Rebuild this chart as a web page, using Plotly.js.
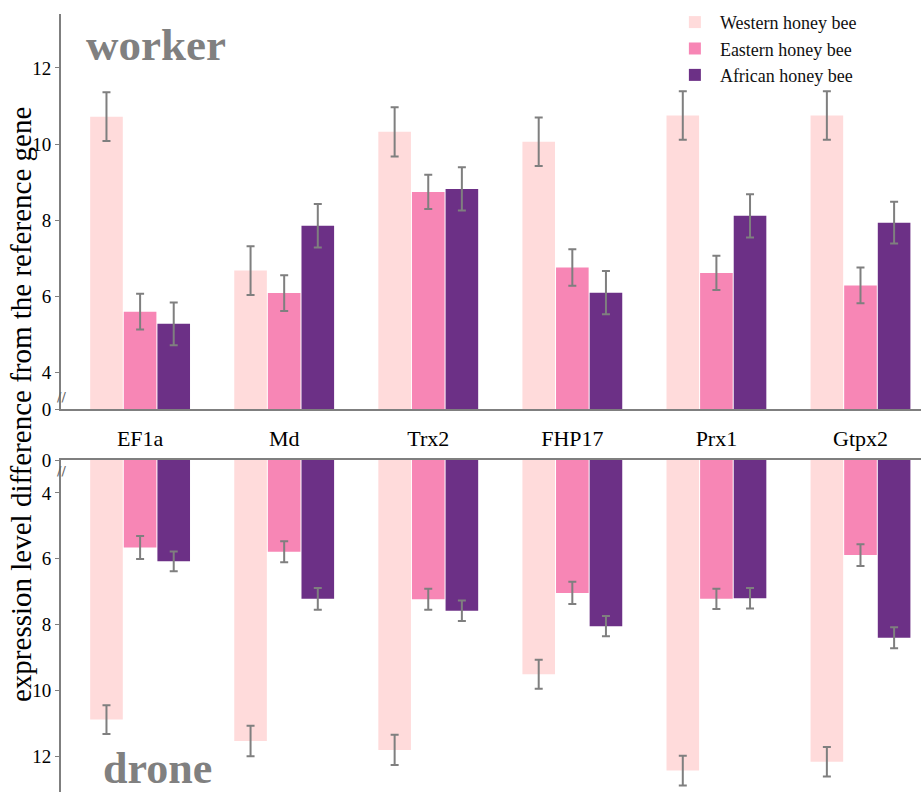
<!DOCTYPE html>
<html>
<head>
<meta charset="utf-8">
<script src="https://cdn.plot.ly/plotly-3.0.1.min.js"></script>
<style>html,body{margin:0;padding:0;background:#fff;}#chart{width:921px;height:792px;}</style>
</head>
<body>
<div id="chart"></div>
<script>
const genes = ["EF1a", "Md", "Trx2", "FHP17", "Prx1", "Gtpx2"];
const seriesNames = ["Western honey bee", "Eastern honey bee", "African honey bee"];
const seriesColors = ["#FFDBDB", "#F786B5", "#6C3086"];

// worker (upper panel)
const workerWestern = [10.72, 6.67, 10.32, 10.06, 10.75, 10.75];
const workerEastern = [5.59, 6.08, 8.74, 6.75, 6.61, 6.28];
const workerAfrican = [5.27, 7.85, 8.82, 6.09, 8.11, 7.93];
const workerWesternErr = [0.64, 0.64, 0.65, 0.64, 0.64, 0.64];
const workerEasternErr = [0.47, 0.47, 0.45, 0.48, 0.45, 0.47];
const workerAfricanErr = [0.56, 0.57, 0.57, 0.57, 0.57, 0.55];

// drone (lower panel)
const droneWestern = [10.89, 11.54, 11.81, 9.51, 12.44, 12.17];
const droneEastern = [5.66, 5.79, 7.23, 7.04, 7.22, 5.89];
const droneAfrican = [6.08, 7.22, 7.58, 8.05, 7.20, 8.40];
const droneWesternErr = [0.44, 0.46, 0.46, 0.44, 0.45, 0.45];
const droneEasternErr = [0.35, 0.32, 0.32, 0.34, 0.31, 0.33];
const droneAfricanErr = [0.30, 0.33, 0.31, 0.31, 0.31, 0.32];

const workerTickVals = [3.03, 4, 6, 8, 10, 12];
const droneTickVals = [3, 4, 6, 8, 10, 12];
const tickText = ["0", "4", "6", "8", "10", "12"];

const FONT = '"Liberation Serif", "Times New Roman", serif';
const GRAY = "#7f7f7f";

function barTrace(vals, errs, i, xa, ya, show) {
  return {
    type: "bar", x: genes, y: vals, name: seriesNames[i],
    xaxis: xa, yaxis: ya, showlegend: show, legendgroup: "g" + i,
    marker: {color: seriesColors[i], line: {width: 0}},
    error_y: {type: "data", array: errs, visible: true, color: GRAY, thickness: 2, width: 4},
    hoverinfo: "x+y"
  };
}

const data = [
  barTrace(workerWestern, workerWesternErr, 0, "x", "y", true),
  barTrace(workerEastern, workerEasternErr, 1, "x", "y", true),
  barTrace(workerAfrican, workerAfricanErr, 2, "x", "y", true),
  barTrace(droneWestern, droneWesternErr, 0, "x2", "y2", false),
  barTrace(droneEastern, droneEasternErr, 1, "x2", "y2", false),
  barTrace(droneAfrican, droneAfricanErr, 2, "x2", "y2", false)
];

const H = 792, T = 14, PH = H - T;
const topDomain = [(H - 409) / PH, 1];
const botDomain = [0, (H - 460) / PH];
const xRange = [-0.549, 5.42];

const layout = {
  width: 921, height: 792,
  margin: {l: 61, r: 0, t: T, b: 0},
  paper_bgcolor: "#fff", plot_bgcolor: "#fff",
  font: {family: FONT, color: "#000", size: 19},
  barmode: "group", bargap: 0.30, bargroupgap: 0.03,
  showlegend: true,
  legend: {x: 0.708, xanchor: "left", y: 1.013, yanchor: "top",
           font: {family: FONT, size: 18, color: "#111"}, bgcolor: "rgba(0,0,0,0)",
           tracegroupgap: 0, itemwidth: 40},
  xaxis: {domain: [0, 1], anchor: "y", range: xRange, type: "category",
          showline: true, linecolor: GRAY, linewidth: 2, ticks: "",
          tickfont: {family: FONT, size: 22, color: "#000"}, ticklabelstandoff: 9,
          showgrid: false, zeroline: false},
  yaxis: {domain: topDomain, anchor: "x", range: [3.03, 13.42],
          tickvals: workerTickVals, ticktext: tickText,
          showline: true, linecolor: GRAY, linewidth: 2, ticks: "outside", ticklen: 4, tickcolor: GRAY, tickwidth: 1,
          tickfont: {family: FONT, size: 19, color: "#000"},
          showgrid: false, zeroline: false},
  xaxis2: {domain: [0, 1], anchor: "y2", range: xRange, type: "category", side: "top",
           showline: true, linecolor: GRAY, linewidth: 2, ticks: "", showticklabels: false,
           showgrid: false, zeroline: false},
  yaxis2: {domain: botDomain, anchor: "x2", range: [13.09, 3],
           tickvals: droneTickVals, ticktext: tickText,
           showline: true, linecolor: GRAY, linewidth: 2, ticks: "outside", ticklen: 4, tickcolor: GRAY, tickwidth: 1,
           tickfont: {family: FONT, size: 19, color: "#000"},
           showgrid: false, zeroline: false},
  annotations: [
    {text: "expression level difference from the reference gene", xref: "paper", yref: "paper",
     x: (21 - 61) / 860, y: (H - 405) / PH, textangle: -90, showarrow: false,
     xanchor: "center", yanchor: "middle", font: {family: FONT, size: 29, color: "#000"}},
    {text: "<b>worker</b>", xref: "paper", yref: "paper", x: (156 - 61) / 860, y: (H - 45) / PH,
     showarrow: false, xanchor: "center", yanchor: "middle", font: {family: FONT, size: 45, color: "#808080"}},
    {text: "<b>drone</b>", xref: "paper", yref: "paper", x: (157 - 61) / 860, y: (H - 768) / PH,
     showarrow: false, xanchor: "center", yanchor: "middle", font: {family: FONT, size: 44, color: "#808080"}},
    {text: "//", xref: "paper", yref: "y", x: 0, y: 3.37, showarrow: false,
     xanchor: "center", yanchor: "middle", font: {family: "DejaVu Sans", size: 13, color: "#666"}},
    {text: "//", xref: "paper", yref: "y2", x: 0, y: 3.33, showarrow: false,
     xanchor: "center", yanchor: "middle", font: {family: "DejaVu Sans", size: 13, color: "#666"}}
  ]
};

Plotly.newPlot("chart", data, layout, {displayModeBar: false, staticPlot: true});
</script>
</body>
</html>
